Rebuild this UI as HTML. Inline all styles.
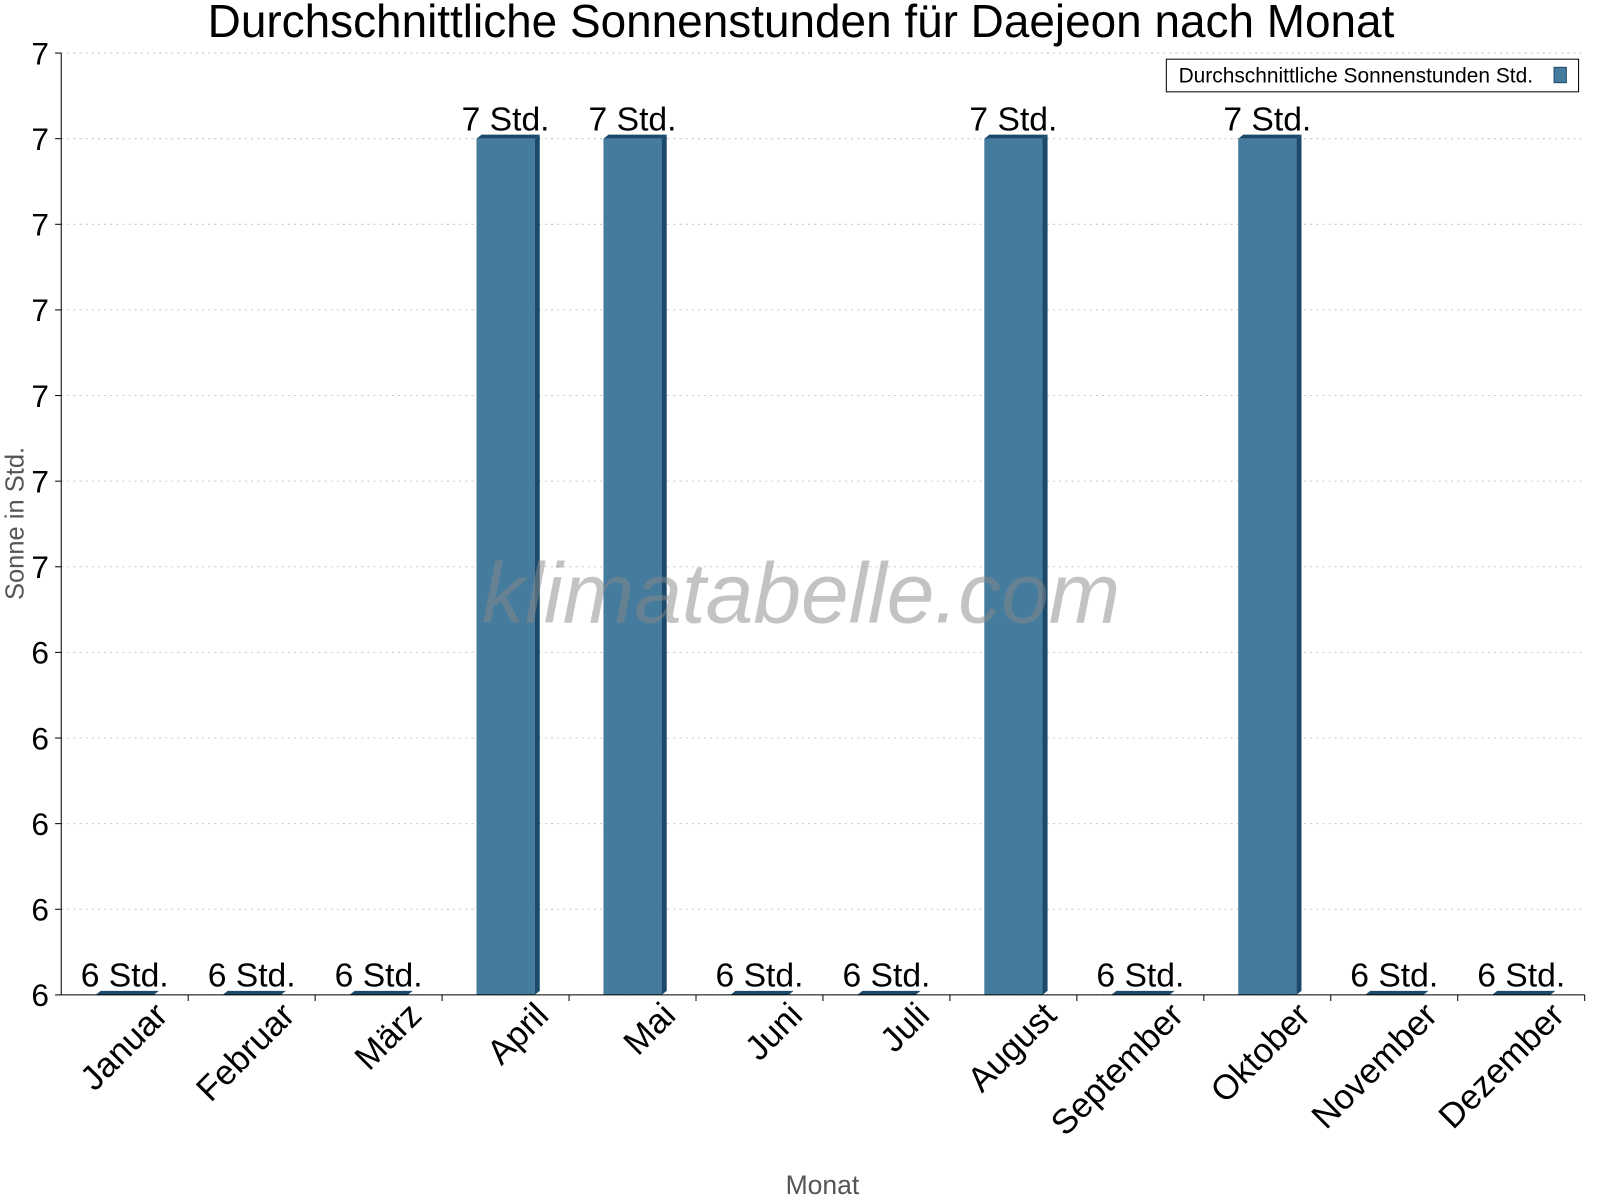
<!DOCTYPE html>
<html><head><meta charset="utf-8"><style>
body{margin:0;background:#fff;font-family:"Liberation Sans",sans-serif;}
svg{display:block}
</style></head><body>
<svg id="c" width="1600" height="1200" viewBox="0 0 1568 1176" xmlns="http://www.w3.org/2000/svg"></svg>
<script>
const categories=["Januar","Februar","März","April","Mai","Juni","Juli","August","September","Oktober","November","Dezember"];
const values=[6,6,6,7,7,6,6,7,6,7,6,6];
const valueLabels=["6 Std.","6 Std.","6 Std.","7 Std.","7 Std.","6 Std.","6 Std.","7 Std.","6 Std.","7 Std.","6 Std.","6 Std."];
const ticks=[6.0,6.1,6.2,6.3,6.4,6.5,6.6,6.7,6.8,6.9,7.0,7.1];
const yMin=6.0,yMax=7.1;
const L=60,R=1553,T=52,B=975;
const svg=document.getElementById('c');
const NS="http://www.w3.org/2000/svg";
function el(t,a,txt){const e=document.createElementNS(NS,t);for(const k in a)e.setAttribute(k,a[k]);if(txt!==undefined)e.textContent=txt;svg.appendChild(e);return e;}
const y=v=>B-(v-yMin)/(yMax-yMin)*(B-T);
const bw=(R-L)/categories.length;
const x=i=>L+bw*i+bw/2;
let e=el('text',{x:785,y:36,'font-size':45,'text-anchor':'middle',fill:'#000'},'Durchschnittliche Sonnenstunden für Daejeon nach Monat');

ticks.forEach(t=>{
 const yy=y(t);
 let g=el('line',{x1:L,x2:R,y1:yy,y2:yy,stroke:'#c8c8c8','stroke-dasharray':'2,4'});
 
 let tk=el('line',{x1:L-6,x2:L,y1:yy,y2:yy,stroke:'#000'});
 
 let lb=el('text',{x:48,y:yy+11,'font-size':31,'text-anchor':'end',fill:'#000'},Math.round(t).toString());
 
});
e=el('text',{x:23,y:513,'font-size':25,fill:'#555','text-anchor':'middle',transform:'rotate(-90 23 513)'},'Sonne in Std.');

categories.forEach((c,i)=>{
 const cx=x(i),w=57,x0=cx-w/2,yt=y(values[i]),h=B-yt;
 if(h>1){
  let s=el('polygon',{points:`${x0+w},${yt} ${x0+w+5},${yt-4} ${x0+w+5},${B-4} ${x0+w},${B}`,fill:'#1b4a6b'});
  
  let r=el('rect',{x:x0,y:yt,width:w,height:h,fill:'#457b9d'});
  
 }
 let tp=el('polygon',{points:`${x0},${yt} ${x0+5},${yt-4} ${x0+w+5},${yt-4} ${x0+w},${yt}`,fill:'#1b4a6b'});
 
 let vl=el('text',{x:cx,y:yt-8,'font-size':33,'text-anchor':'middle',fill:'#000'},valueLabels[i]);
 
 const tx=L+bw*(i+1);
 let tk=el('line',{x1:tx,x2:tx,y1:B,y2:B+6,stroke:'#000'});
 
 let xl=el('text',{x:cx+44,y:B+22,'font-size':34,'text-anchor':'end',fill:'#000',transform:`rotate(-45 ${cx+44} ${B+22})`},c);
 
});
e=el('text',{x:785,y:610,'font-size':84,'font-style':'italic',fill:'#888','fill-opacity':0.5,'text-anchor':'middle'},'klimatabelle.com');

e=el('line',{x1:L,x2:L,y1:T,y2:B,stroke:'#000'});
e=el('line',{x1:L,x2:R,y1:B,y2:B,stroke:'#000'});
e=el('text',{x:806,y:1170,'font-size':26,fill:'#555','text-anchor':'middle'},'Monat');

e=el('rect',{x:1143,y:58,width:404,height:32,fill:'#fff',stroke:'#000'});

e=el('text',{x:1155,y:81,'font-size':20.5,fill:'#000'},'Durchschnittliche Sonnenstunden Std.');

e=el('rect',{x:1523,y:66,width:12,height:15,fill:'#457b9d',stroke:'#1b4a6b'});

</script>
</body></html>
